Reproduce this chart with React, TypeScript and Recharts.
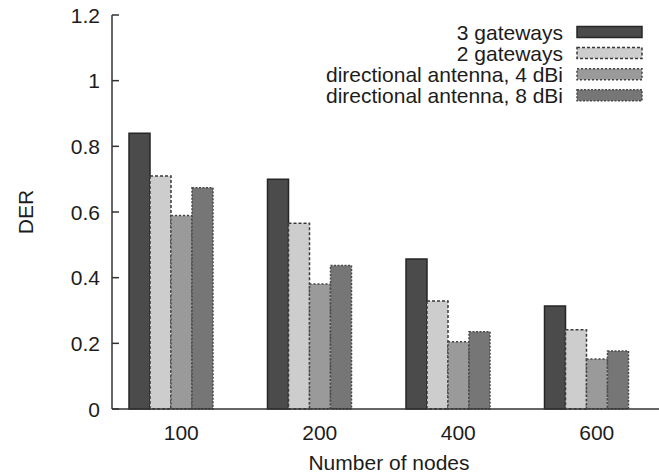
import React from 'react';
import { BarChart, Bar, XAxis, YAxis, Legend, Label } from 'recharts';

// ---- data ----
const categories = ['100', '200', '400', '600'];
const gateways3 = [0.84, 0.7, 0.457, 0.314];
const gateways2 = [0.71, 0.566, 0.329, 0.241];
const directional4 = [0.589, 0.381, 0.205, 0.152];
const directional8 = [0.674, 0.437, 0.235, 0.177];
const seriesNames = ['3 gateways', '2 gateways', 'directional antenna, 4 dBi', 'directional antenna, 8 dBi'];
const yTicks = [0, 0.2, 0.4, 0.6, 0.8, 1, 1.2];

const seriesKeys = ['g3', 'g2', 'd4', 'd8'];
const seriesValues = [gateways3, gateways2, directional4, directional8];

const data = categories.map((name, i) => {
  const row: Record<string, any> = { name };
  seriesKeys.forEach((k, s) => {
    row[k] = seriesValues[s][i];
  });
  return row;
});

// ---- styles ----
const FONT = '"Liberation Sans", Arial, Helvetica, sans-serif';
const FS = 21;
const TEXT = '#1c1c1c';
const AXIS = '#333333';

const seriesStyles = [
  { fill: '#4b4b4b', stroke: '#262626', dash: undefined as string | undefined },
  { fill: '#cdcdcd', stroke: '#3a3a3a', dash: '3 2' },
  { fill: '#9a9a9a', stroke: '#444444', dash: '2 2' },
  { fill: '#767676', stroke: '#4a4a4a', dash: '2 1.5' },
];

const YTick = (props: any) => {
  const { x, y, payload } = props;
  return (
    <g>
      <line x1={x + 12} x2={x + 19} y1={y} y2={y} stroke={AXIS} strokeWidth={1.5} />
      <text x={x} y={y} dy="0.36em" textAnchor="end" fontFamily={FONT} fontSize={FS} fill={TEXT}>
        {String(payload.value)}
      </text>
    </g>
  );
};

const XTick = (props: any) => {
  const { x, y, payload } = props;
  return (
    <text x={x} y={y} dy="0.71em" textAnchor="middle" fontFamily={FONT} fontSize={FS} fill={TEXT}>
      {payload.value}
    </text>
  );
};

const TopTick = (props: any) => {
  const { x, y } = props;
  return <line x1={x} x2={x} y1={y} y2={y + 6} stroke={AXIS} strokeWidth={1.5} />;
};

const LegendContent = () => (
  <svg width={680} height={120} style={{ display: 'block' }}>
    {seriesNames.map((n, i) => {
      const cy = 32 + i * 21.1;
      const st = seriesStyles[i];
      return (
        <g key={n}>
          <text x={563} y={cy} dy="0.36em" textAnchor="end" fontFamily={FONT} fontSize={FS} fill={TEXT}>
            {n}
          </text>
          <rect
            x={577}
            y={cy - 5.5}
            width={65}
            height={11}
            fill={st.fill}
            stroke={st.stroke}
            strokeWidth={1.5}
            strokeDasharray={st.dash}
          />
        </g>
      );
    })}
  </svg>
);

export default function App() {
  return (
    <div
      style={{
        position: 'absolute',
        left: 0,
        top: 0,
        width: 659,
        height: 476,
        overflow: 'hidden',
        background: '#ffffff',
      }}
    >
      <BarChart
        width={680}
        height={476}
        data={data}
        margin={{ top: 15, right: 14, bottom: 0, left: 0 }}
        barGap={0}
        barSize={21}
      >
        <XAxis
          dataKey="name"
          xAxisId="top"
          orientation="top"
          height={0}
          tickSize={0}
          tickMargin={0}
          tick={<TopTick />}
          axisLine={{ stroke: AXIS, strokeWidth: 1.5 }}
          tickLine={false}
        />
        <XAxis
          dataKey="name"
          height={67}
          tickSize={0}
          tickMargin={16}
          tick={<XTick />}
          axisLine={{ stroke: AXIS, strokeWidth: 1.5 }}
          tickLine={false}
        >
          <Label
            content={(p: any) => {
              const vb = p.viewBox || {};
              return (
                <text
                  x={vb.x + vb.width / 2}
                  y={vb.y + 61}
                  textAnchor="middle"
                  fontFamily={FONT}
                  fontSize={FS}
                  fill={TEXT}
                >
                  Number of nodes
                </text>
              );
            }}
          />
        </XAxis>
        <YAxis
          type="number"
          domain={[0, 1.2]}
          ticks={yTicks}
          width={112}
          tickSize={0}
          tickMargin={12}
          tick={<YTick />}
          axisLine={{ stroke: AXIS, strokeWidth: 1.5 }}
          tickLine={false}
          interval={0}
        >
          <Label
            content={(p: any) => {
              const vb = p.viewBox || {};
              const cx = 25;
              const cy = vb.y + vb.height / 2;
              return (
                <text
                  x={cx}
                  y={cy}
                  dy="0.36em"
                  textAnchor="middle"
                  transform={`rotate(-90, ${cx}, ${cy})`}
                  fontFamily={FONT}
                  fontSize={FS}
                  fill={TEXT}
                >
                  DER
                </text>
              );
            }}
          />
        </YAxis>
        <Legend
          layout="vertical"
          align="center"
          verticalAlign="middle"
          content={<LegendContent />}
          wrapperStyle={{ position: 'absolute', left: 0, top: 0, width: 680, height: 120, pointerEvents: 'none' }}
        />
        {seriesKeys.map((k, i) => (
          <Bar
            key={k}
            dataKey={k}
            name={seriesNames[i]}
            fill={seriesStyles[i].fill}
            stroke={seriesStyles[i].stroke}
            strokeWidth={1.5}
            strokeDasharray={seriesStyles[i].dash}
            isAnimationActive={false}
          />
        ))}
        <Bar dataKey="spacer" fill="none" legendType="none" isAnimationActive={false} />
      </BarChart>
    </div>
  );
}
